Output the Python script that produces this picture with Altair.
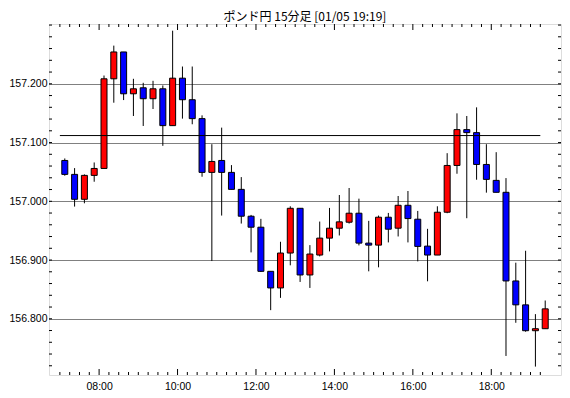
import altair as alt
import pandas as pd
import numpy as np

# candle start times in hours (15-minute bars, 07:00 .. 19:15)
start_hour = 7.0
n = 50
opens = [157.0695, 157.0458, 157.0034, 157.0441, 157.0559, 157.2085, 157.2542, 157.1830, 157.1932, 157.1746,
         157.1915, 157.1288, 157.2096, 157.1729, 157.1407, 157.0492, 157.0695, 157.0492, 157.0203, 156.9746,
         156.9559, 156.8808, 156.8525, 156.9119, 156.9881, 156.8746, 156.9085, 156.9373, 156.9542, 156.9644,
         156.9797, 156.9288, 156.9254, 156.9729, 156.9542, 156.9932, 156.9695, 156.9237, 156.9085, 156.9814,
         157.0610, 157.1220, 157.1169, 157.0627, 157.0356, 157.0153, 156.8644, 156.8237, 156.7797, 156.7831]
highs = [157.0729, 157.0565, 157.0458, 157.0661, 157.2141, 157.2650, 157.2542, 157.2085, 157.2017, 157.2051,
         157.1972, 157.2904, 157.2294, 157.2294, 157.1463, 157.0972, 157.1254, 157.0616, 157.0412, 156.9768,
         156.9701, 156.8808, 156.9311, 156.9915, 156.9881, 156.9254, 156.9655, 156.9887, 157.0107, 157.0226,
         157.0045, 156.9667, 156.9757, 156.9802, 157.0090, 157.0175, 156.9836, 156.9531, 156.9915, 157.0819,
         157.1497, 157.1452, 157.1599, 157.0972, 157.0836, 157.0395, 156.8955, 156.9158, 156.8079, 156.8311]
lows = [157.0435, 156.9910, 156.9966, 157.0333, 157.0554, 157.1678, 157.1723, 157.1452, 157.1282, 157.1571,
        157.0944, 157.1288, 157.1407, 157.1311, 157.0418, 156.8983, 156.9757, 157.0203, 156.9621, 156.9130,
        156.8797, 156.8147, 156.8356, 156.8910, 156.8627, 156.8525, 156.9062, 156.9147, 156.9418, 156.9621,
        156.9249, 156.8808, 156.8876, 156.9300, 156.9401, 156.9300, 156.8977, 156.8638, 156.9085, 156.9797,
        157.0469, 156.9712, 157.0367, 157.0147, 157.0153, 156.7367, 156.7932, 156.7780, 156.7186, 156.7831]
closes = [157.0458, 157.0034, 157.0441, 157.0559, 157.2085, 157.2542, 157.1830, 157.1915, 157.1746, 157.1915,
          157.1288, 157.2096, 157.1729, 157.1407, 157.0492, 157.0678, 157.0492, 157.0203, 156.9746, 156.9559,
          156.8808, 156.8525, 156.9119, 156.9881, 156.8746, 156.9102, 156.9373, 156.9542, 156.9650, 156.9797,
          156.9288, 156.9254, 156.9729, 156.9525, 156.9932, 156.9706, 156.9232, 156.9085, 156.9814, 157.0610,
          157.1220, 157.1169, 157.0627, 157.0373, 157.0153, 156.8644, 156.8237, 156.7797, 156.7831, 156.8169]

ref_level = 157.1119
ref_start, ref_end = 7.0, 19.25

title_text = "ポンド円 15分足 [01/05 19:19]"
y_labels = [156.8, 156.9, 157.0, 157.1, 157.2]
x_labels = [8, 10, 12, 14, 16, 18]

W, H = 512, 351
x_domain = [6.85, 6.85 + W / 40.0]
y_domain = [156.7043, 157.3018]

starts = [start_hour + 0.25 * i for i in range(n)]
df = pd.DataFrame({
    "start": starts,
    "t": [s + 0.125 for s in starts],
    "open": opens, "high": highs, "low": lows, "close": closes,
})
df["dir"] = np.where(df["close"] >= df["open"], "up", "down")

xs = alt.Scale(domain=x_domain, nice=False, zero=False)
ys = alt.Scale(domain=y_domain, nice=False, zero=False)

FONT = "Liberation Sans"

base = alt.Chart(df)

x_enc = alt.X("t:Q", scale=xs, title=None,
              axis=alt.Axis(values=x_labels, labelExpr="(datum.value < 10 ? '0' : '') + datum.value + ':00'",
                            grid=False, ticks=False, domain=False, labelPadding=6,
                            labelFont=FONT, labelFontSize=10.5, labelColor="black"))
y_enc_low = alt.Y("low:Q", scale=ys, title=None,
                  axis=alt.Axis(values=y_labels, format=".3f", grid=True, gridDash=[1, 1],
                                gridColor="black", gridOpacity=1, gridWidth=1,
                                ticks=False, domain=False, labelPadding=2,
                                labelFont=FONT, labelFontSize=10.5, labelColor="black"))

wicks = base.mark_rule(color="black", strokeWidth=1).encode(
    x=x_enc, y=y_enc_low, y2="high:Q")

bodies = base.mark_bar(size=6, stroke="black", strokeWidth=1).encode(
    x=alt.X("t:Q", scale=xs),
    y=alt.Y("open:Q", scale=ys),
    y2="close:Q",
    color=alt.Color("dir:N", scale=alt.Scale(domain=["up", "down"], range=["#ff0000", "#0000ff"]), legend=None),
)

ref_df = pd.DataFrame({"x1": [ref_start], "x2": [ref_end], "v": [ref_level]})
ref_line = alt.Chart(ref_df).mark_rule(color="black", strokeWidth=1).encode(
    x=alt.X("x1:Q", scale=xs), x2="x2:Q", y=alt.Y("v:Q", scale=ys))

# axis tick positions (inward ticks)
xt = pd.DataFrame({"h": starts})
xt["major"] = [(abs(h - round(h)) < 1e-9 and int(round(h)) % 2 == 0) for h in starts]
xt_minor = xt[~xt["major"]]
xt_major = xt[xt["major"]]
yt = pd.DataFrame({"v": np.round(np.arange(156.72, 157.301, 0.02), 3)})

def xticks(d, length):
    c = alt.Chart(d)
    bot = c.mark_rule(color="black", strokeWidth=1).encode(
        x=alt.X("h:Q", scale=xs), y=alt.value(H), y2=alt.value(H - length))
    top = c.mark_rule(color="black", strokeWidth=1).encode(
        x=alt.X("h:Q", scale=xs), y=alt.value(0), y2=alt.value(length))
    return bot + top

yc = alt.Chart(yt)
yt_left = yc.mark_rule(color="black", strokeWidth=1).encode(
    y=alt.Y("v:Q", scale=ys), x=alt.value(0), x2=alt.value(3))
yt_right = yc.mark_rule(color="black", strokeWidth=1).encode(
    y=alt.Y("v:Q", scale=ys), x=alt.value(W), x2=alt.value(W - 3))

chart = alt.layer(
    wicks, bodies, ref_line,
    xticks(xt_minor, 3), xticks(xt_major, 6), yt_left, yt_right,
).properties(
    width=W, height=H,
    title=alt.TitleParams(title_text, font="Noto Sans CJK JP", fontSize=12, fontWeight="normal",
                          color="black", anchor="middle", offset=0),
    autosize=alt.AutoSizeParams(type="none"),
    padding={"left": 41, "top": 16, "right": 1, "bottom": 15},
).configure_view(stroke="black", strokeWidth=1).configure(background="white")

chart.save("out.html", embed_options={"renderer": "svg", "actions": False})
